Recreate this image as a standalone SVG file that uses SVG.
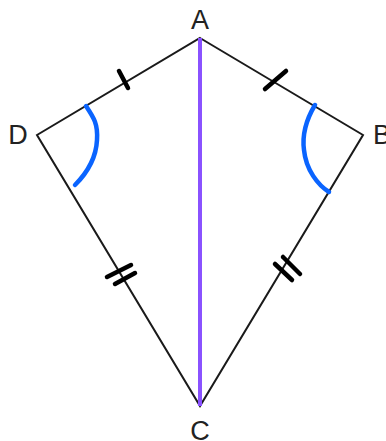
<svg xmlns="http://www.w3.org/2000/svg" width="386" height="441" viewBox="0 0 386 441">
<style>
.side{stroke:#1a1a1a;stroke-width:2;fill:none;stroke-linejoin:miter}
.diag{stroke:#8a52ff;stroke-width:4;fill:none}
.tick{stroke:#000;stroke-width:4.5;stroke-linecap:round;fill:none}
.arc{stroke:#0a64ff;stroke-width:4.5;stroke-linecap:round;fill:none}
.lbl{font-family:"Liberation Sans",Arial,sans-serif;font-size:27px;fill:#222}
</style>
<rect width="386" height="441" fill="#fff"/>
<g id="connectors">
<path class="side" d="M200,38 L363,135 L200,406 L37,135 Z"/>
<line class="diag" x1="200" y1="38" x2="200" y2="406"/>
</g>
<g id="marks">
<line class="tick" x1="119" y1="71" x2="128" y2="88"/>
<line class="tick" x1="265" y1="89" x2="286" y2="71"/>
<line class="tick" x1="107" y1="277" x2="131" y2="265"/>
<line class="tick" x1="115" y1="284" x2="135" y2="273"/>
<line class="tick" x1="275" y1="264" x2="292" y2="280"/>
<line class="tick" x1="283" y1="257" x2="300" y2="274"/>
<path class="arc" d="M86,106 C94,118 98,124 97,140 C96,160 86,174 75,185"/>
<path class="arc" d="M315,105 C306,120 302,135 304,150 C306,170 318,185 329,192"/>
</g>
<g id="A"><text class="lbl" x="200" y="29" text-anchor="middle">A</text></g>
<g id="B"><text class="lbl" x="373" y="144">B</text></g>
<g id="C"><text class="lbl" x="200" y="440" text-anchor="middle">C</text></g>
<g id="D"><text class="lbl" x="18" y="144" text-anchor="middle">D</text></g>
</svg>
